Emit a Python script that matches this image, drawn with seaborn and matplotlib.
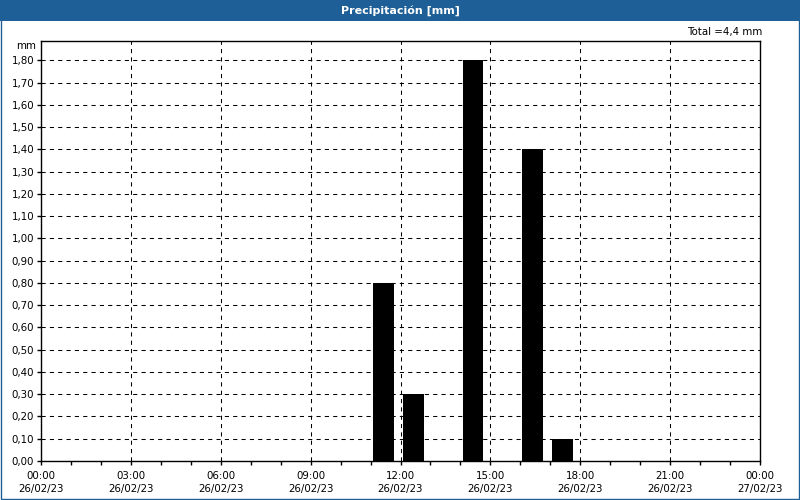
import numpy as np
import pandas as pd
import matplotlib
matplotlib.use("Agg")
import matplotlib.pyplot as plt
import seaborn as sns
from matplotlib.patches import Rectangle
from matplotlib.ticker import FixedLocator, FuncFormatter

# ---- data ----
hours = [11, 12, 14, 16, 17]          # hour of day (26/02/23)
precip = [0.8, 0.3, 1.8, 1.4, 0.1]    # mm
tick_hours = [0, 3, 6, 9, 12, 15, 18, 21, 24]
tick_labels = ["00:00\n26/02/23", "03:00\n26/02/23", "06:00\n26/02/23",
               "09:00\n26/02/23", "12:00\n26/02/23", "15:00\n26/02/23",
               "18:00\n26/02/23", "21:00\n26/02/23", "00:00\n27/02/23"]
title = "Precipitación [mm]"
total_text = "Total =4,4 mm"
unit = "mm"

sns.set_theme(style="white")
plt.rcParams["font.family"] = ["DejaVu Sans"]
plt.rcParams["text.color"] = "black"
plt.rcParams["xtick.color"] = "black"
plt.rcParams["ytick.color"] = "black"
plt.rcParams["axes.labelcolor"] = "black"

fig = plt.figure(figsize=(8, 5), dpi=100)
fig.patch.set_facecolor("white")
ax = fig.add_axes([41/800, 39/500, 719/800, 420.3/500])

df = pd.DataFrame({"x": np.array(hours) + 0.42, "y": precip})
sns.barplot(data=df, x="x", y="y", native_scale=True, width=0.7,
            color="black", edgecolor="black", linewidth=0, errorbar=None,
            saturation=1, ax=ax)

ax.set_xlim(0, 24)
ax.set_ylim(0, 1.888)
ax.set_xlabel("")
ax.set_ylabel("")

ax.xaxis.set_major_locator(FixedLocator(tick_hours))
ax.set_xticklabels(tick_labels, fontsize=7.4, linespacing=1.45)
ax.xaxis.set_minor_locator(FixedLocator(np.arange(0, 25, 1)))
ax.yaxis.set_major_locator(FixedLocator(np.round(np.arange(0, 1.81, 0.1), 2)))
ax.yaxis.set_major_formatter(FuncFormatter(lambda v, p: f"{v:.2f}".replace(".", ",")))
ax.tick_params(axis="y", labelsize=7.4, length=3, width=1, direction="out",
               left=True, pad=2, color="black", labelcolor="black")
ax.tick_params(axis="x", which="both", length=3, width=1, direction="out",
               bottom=True, pad=4, color="black", labelcolor="black")

ax.grid(True, which="major", color="black", linestyle=(0, (4, 4)), linewidth=0.75)
ax.set_axisbelow(True)
for s in ax.spines.values():
    s.set_color("black")
    s.set_linewidth(1)
    s.set_visible(True)

# title bar and border
fig.patches.append(Rectangle((0, 1 - 20.7/500), 1, 20.7/500, transform=fig.transFigure,
                             facecolor="#1d5f96", edgecolor="none", zorder=0))
fig.patches.append(Rectangle((0.0008, 0.0012), 0.9984, 0.9976, transform=fig.transFigure,
                             facecolor="none", edgecolor="#1d5f96", linewidth=1.0, zorder=5))
fig.text(0.5, 1 - 10.5/500, title, color="white", fontsize=8, fontweight="bold",
         ha="center", va="center")
fig.text(762/800, 1 - 32/500, total_text, fontsize=7.4, ha="right", va="center")
fig.text(36/800, 1 - 46/500, unit, fontsize=7.4, ha="right", va="center")

fig.savefig("out.png", dpi=100)
